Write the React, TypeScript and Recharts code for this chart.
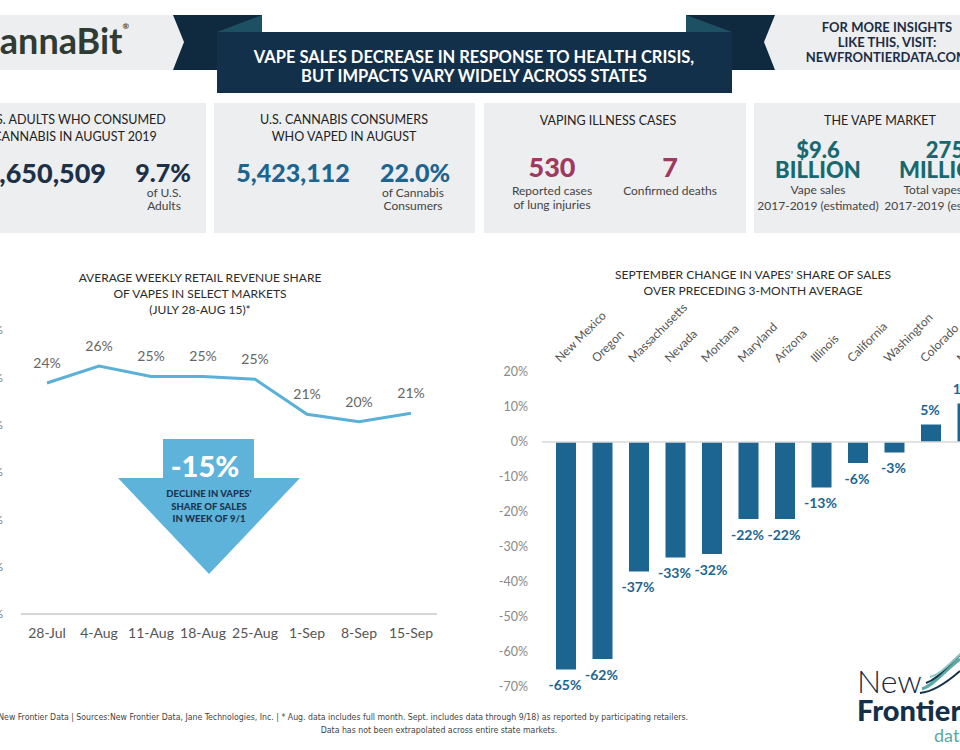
import React from "react";
import {
  Bar,
  BarChart,
  LabelList,
  Line,
  LineChart,
  ReferenceLine,
  XAxis,
  YAxis,
} from "recharts";

// weekly vape share of retail revenue (select markets)
const weeks = ["28-Jul", "4-Aug", "11-Aug", "18-Aug", "25-Aug", "1-Sep", "8-Sep", "15-Sep"];
const vapeShare = [24.4, 26.2, 25.1, 25.1, 24.8, 21.1, 20.3, 21.2];
const shareTicks = [0, 5, 10, 15, 20, 25, 30];

// september change vs preceding 3-month average
const states = [
  "New Mexico",
  "Oregon",
  "Massachusetts",
  "Nevada",
  "Montana",
  "Maryland",
  "Arizona",
  "Illinois",
  "California",
  "Washington",
  "Colorado",
  "Michigan",
];
const septChange = [-65, -62, -37, -33, -32, -22, -22, -13, -6, -3, 5, 11];
const changeTicks = [-70, -60, -50, -40, -30, -20, -10, 0, 10, 20];

const NAVY = "#13304a";
const BAR = "#1c6591";
const LINE = "#5bb0d7";
const FONT = "Lato, 'Open Sans', sans-serif";
const NARROW = "'Liberation Sans Narrow', 'DejaVu Sans Condensed', sans-serif";

const shareData = weeks.map((week, i) => ({ week, share: vapeShare[i] }));
const changeData = states.map((state, i) => ({ state, change: septChange[i] }));

function T({
  x,
  y,
  size = 12,
  weight = 400,
  color = "#333",
  lh = 1,
  children,
  style,
}: {
  x: number;
  y: number;
  size?: number;
  weight?: number;
  color?: string;
  lh?: number;
  children: React.ReactNode;
  style?: React.CSSProperties;
}) {
  return (
    <div
      style={{
        position: "absolute",
        left: x,
        top: y,
        transform: "translate(-50%, -50%)",
        whiteSpace: "nowrap",
        fontSize: size,
        fontWeight: weight,
        color,
        lineHeight: lh,
        ...style,
      }}
    >
      {children}
    </div>
  );
}

function Box({ x, w }: { x: number; w: number }) {
  return (
    <div
      style={{
        position: "absolute",
        left: x,
        top: 103,
        width: w,
        height: 130,
        background: "#edeef0",
      }}
    />
  );
}

function StateTick({ x, y, payload }: any) {
  const ax = x - 6;
  const ay = y - 1;
  return (
    <text
      x={ax}
      y={ay}
      transform={`rotate(-45 ${ax} ${ay})`}
      textAnchor="start"
      fill="#555"
      fontSize={12}
      fontFamily={FONT}
    >
      {payload.value}
    </text>
  );
}

function BarValueLabel(props: any) {
  const { x, y, width, height, value } = props;
  const cx = Number(x) + Number(width) / 2 - 1;
  const top = Math.min(Number(y), Number(y) + Number(height));
  const bottom = Math.max(Number(y), Number(y) + Number(height));
  const ly = value < 0 ? bottom + 15 : top - 15;
  return (
    <text
      x={cx}
      y={ly}
      textAnchor="middle"
      dominantBaseline="central"
      fill={BAR}
      fontSize={14}
      fontWeight={700}
      fontFamily={FONT}
    >
      {`${value}%`}
    </text>
  );
}

function Header() {
  return (
    <>
      <div style={{ position: "absolute", left: 0, top: 15, width: 185, height: 55, background: "#edeef0" }} />
      <div style={{ position: "absolute", left: 762, top: 15, width: 198, height: 55, background: "#edeef0" }} />
      <svg width={960} height={100} style={{ position: "absolute", left: 0, top: 0 }}>
        <polygon points="173,15 262,15 262,70 173,70 184,42" fill="#0f2a3f" />
        <polygon points="217,32 262,15 262,32" fill="#1d5062" />
        <polygon points="686,15 775,15 764,42 775,70 686,70" fill="#0f2a3f" />
        <polygon points="686,15 732,32 686,32" fill="#1d5062" />
        <rect x={217} y={32} width={515} height={61} fill={NAVY} />
      </svg>
      <div
        style={{
          position: "absolute",
          left: -24,
          top: 22,
          fontSize: 36,
          fontWeight: 700,
          color: "#2f3b33",
          lineHeight: 1,
          whiteSpace: "nowrap",
        }}
      >
        CannaBit<span style={{ fontSize: 8, verticalAlign: "top" }}>®</span>
      </div>
      <T x={474} y={57} size={16.5} weight={700} color="#fff">
        VAPE SALES DECREASE IN RESPONSE TO HEALTH CRISIS,
      </T>
      <T x={474} y={76} size={16.5} weight={700} color="#fff">
        BUT IMPACTS VARY WIDELY ACROSS STATES
      </T>
      <T x={887} y={27} size={13} weight={700} color="#1b2d45">FOR MORE INSIGHTS</T>
      <T x={887} y={42} size={13} weight={700} color="#1b2d45">LIKE THIS, VISIT:</T>
      <T x={887} y={57} size={13} weight={700} color="#1b2d45">NEWFRONTIERDATA.COM</T>
    </>
  );
}

function Stats() {
  return (
    <>
      <Box x={-55} w={261} />
      <Box x={214} w={261} />
      <Box x={484} w={262} />
      <Box x={754} w={262} />

      <T x={75} y={120} size={12.5} color="#222">U.S. ADULTS WHO CONSUMED</T>
      <T x={75} y={137} size={12.5} color="#222">CANNABIS IN AUGUST 2019</T>
      <T x={37} y={172} size={27} weight={900} color="#1c3049">24,650,509</T>
      <T x={163} y={172} size={25} weight={900} color="#1c3049">9.7%</T>
      <T x={164} y={193} size={12} color="#444">of U.S.</T>
      <T x={164} y={206} size={12} color="#444">Adults</T>

      <T x={344} y={120} size={12.5} color="#222">U.S. CANNABIS CONSUMERS</T>
      <T x={344} y={137} size={12.5} color="#222">WHO VAPED IN AUGUST</T>
      <T x={293} y={172} size={25} weight={900} color={BAR}>5,423,112</T>
      <T x={415} y={172} size={25} weight={900} color={BAR}>22.0%</T>
      <T x={413} y={193} size={12} color="#444">of Cannabis</T>
      <T x={413} y={206} size={12} color="#444">Consumers</T>

      <T x={608} y={121} size={12.5} color="#222">VAPING ILLNESS CASES</T>
      <T x={552} y={166} size={27} weight={900} color="#a0395f">530</T>
      <T x={670} y={166} size={27} weight={900} color="#a0395f">7</T>
      <T x={552} y={191} size={12} color="#444">Reported cases</T>
      <T x={552} y={205} size={12} color="#444">of lung injuries</T>
      <T x={670} y={191} size={12} color="#444">Confirmed deaths</T>

      <T x={880} y={121} size={12.5} color="#222">THE VAPE MARKET</T>
      <T x={818} y={150} size={22} weight={900} color="#17696f" lh={0.8}>$9.6</T>
      <T x={818} y={170} size={22} weight={900} color="#17696f" lh={0.8}>BILLION</T>
      <T x={945} y={150} size={22} weight={900} color="#17696f" lh={0.8}>275</T>
      <T x={945} y={170} size={22} weight={900} color="#17696f" lh={0.8}>MILLION</T>
      <T x={818} y={190} size={12} color="#444">Vape sales</T>
      <T x={818} y={206} size={12} color="#444">2017-2019 (estimated)</T>
      <T x={945} y={190} size={12} color="#444">Total vapes sold</T>
      <T x={945} y={206} size={12} color="#444">2017-2019 (estimated)</T>
    </>
  );
}

function ShareChart() {
  return (
    <>
      <T x={200} y={278} size={12} color="#2b2b2b">AVERAGE WEEKLY RETAIL REVENUE SHARE</T>
      <T x={200} y={294} size={12} color="#2b2b2b">OF VAPES IN SELECT MARKETS</T>
      <T x={200} y={310} size={12} color="#2b2b2b">(JULY 28-AUG 15)*</T>
      <div style={{ position: "absolute", left: -40, top: 300 }}>
        <LineChart
          width={480}
          height={350}
          data={shareData}
          margin={{ top: 30, right: 3, bottom: 6, left: 0 }}
        >
          <XAxis
            dataKey="week"
            interval={0}
            padding={{ left: 26, right: 26 }}
            axisLine={{ stroke: "#d6d6d6", strokeWidth: 2 }}
            tickLine={false}
            tickMargin={8}
            height={30}
            tick={{ fill: "#555", fontSize: 14, fontFamily: FONT }}
          />
          <YAxis
            domain={[0, 30]}
            ticks={shareTicks}
            width={61}
            axisLine={false}
            tickLine={false}
            tickMargin={12}
            tickFormatter={(v: number) => `${v}%`}
            tick={{ fill: "#777", fontSize: 12, fontFamily: FONT }}
          />
          <Line
            type="linear"
            dataKey="share"
            stroke={LINE}
            strokeWidth={3}
            dot={false}
            isAnimationActive={false}
          >
            <LabelList
              dataKey="share"
              position="top"
              offset={15}
              formatter={(v: any) => `${Math.round(Number(v))}%`}
              fill="#666"
              fontSize={14}
              fontFamily={FONT}
            />
          </Line>
        </LineChart>
      </div>
      <svg width={480} height={160} style={{ position: "absolute", left: 0, top: 430 }}>
        <polygon points="163,9 254,9 254,48 300,48 209,144 118,48 163,48" fill="#5db3da" />
      </svg>
      <T x={205} y={465} size={29} weight={900} color="#fff">-15%</T>
      <T x={209} y={494} size={9.5} weight={900} color="#1b3550">DECLINE IN VAPES'</T>
      <T x={209} y={507} size={9.5} weight={900} color="#1b3550">SHARE OF SALES</T>
      <T x={209} y={519} size={9.5} weight={900} color="#1b3550">IN WEEK OF 9/1</T>
    </>
  );
}

function ChangeChart() {
  return (
    <>
      <T x={753} y={275} size={12} color="#2b2b2b">SEPTEMBER CHANGE IN VAPES' SHARE OF SALES</T>
      <T x={753} y={291} size={12} color="#2b2b2b">OVER PRECEDING 3-MONTH AVERAGE</T>
      <div style={{ position: "absolute", left: 480, top: 290 }}>
        <BarChart
          width={516}
          height={410}
          data={changeData}
          margin={{ top: 22, right: 10, bottom: 13, left: 0 }}
        >
          <XAxis
            dataKey="state"
            orientation="top"
            interval={0}
            height={60}
            padding={{ left: 6, right: 0 }}
            axisLine={false}
            tickLine={false}
            tick={<StateTick />}
          />
          <YAxis
            domain={[-70, 20]}
            ticks={changeTicks}
            width={62}
            axisLine={false}
            tickLine={false}
            tickMargin={8}
            tickFormatter={(v: number) => `${v}%`}
            tick={{ fill: "#888", fontSize: 12.5, fontFamily: FONT }}
          />
          <ReferenceLine y={0} stroke="#d8d8d8" strokeWidth={1.5} />
          <Bar dataKey="change" fill={BAR} barSize={20} isAnimationActive={false}>
            <LabelList dataKey="change" content={<BarValueLabel />} />
          </Bar>
        </BarChart>
      </div>
    </>
  );
}

function Footer() {
  return (
    <>
      <div
        style={{
          position: "absolute",
          right: 960 - 688,
          top: 713,
          whiteSpace: "nowrap",
          fontFamily: NARROW,
          fontSize: 8.7,
          color: "#444",
          lineHeight: 1,
        }}
      >
        © New Frontier Data | Sources:New Frontier Data, Jane Technologies, Inc. | * Aug. data includes full
        month. Sept. includes data through 9/18) as reported by participating retailers.
      </div>
      <T x={439} y={730} size={8.7} color="#444" style={{ fontFamily: NARROW }}>
        Data has not been extrapolated across entire state markets.
      </T>
      <svg width={120} height={60} style={{ position: "absolute", left: 900, top: 645 }}>
        <path d="M22 44 C 34 40, 42 28, 60 14" stroke="#5aa9a3" strokeWidth={3} fill="none" />
        <path d="M26 38 C 38 34, 46 22, 62 8" stroke="#13304a" strokeWidth={2} fill="none" />
        <path d="M30 32 C 40 30, 50 18, 64 6" stroke="#8cc7c0" strokeWidth={2} fill="none" />
        <path d="M20 48 C 32 47, 44 40, 60 26" stroke="#13304a" strokeWidth={2} fill="none" />
      </svg>
      <div style={{ position: "absolute", left: 857, top: 667, fontSize: 32, fontWeight: 300, color: "#1a2a44", lineHeight: 0.85 }}>
        New
      </div>
      <div style={{ position: "absolute", left: 857, top: 698, fontSize: 29, fontWeight: 900, color: "#13304a", lineHeight: 0.85 }}>
        Frontier
      </div>
      <div style={{ position: "absolute", left: 934, top: 727, fontSize: 18, fontWeight: 400, color: "#5aa9a3", lineHeight: 0.9 }}>
        data
      </div>
    </>
  );
}

export default function App() {
  return (
    <div
      style={{
        position: "fixed",
        left: 0,
        top: 0,
        width: 960,
        height: 750,
        overflow: "hidden",
        background: "#fff",
        fontFamily: FONT,
      }}
    >
      <Header />
      <Stats />
      <ShareChart />
      <ChangeChart />
      <Footer />
    </div>
  );
}
